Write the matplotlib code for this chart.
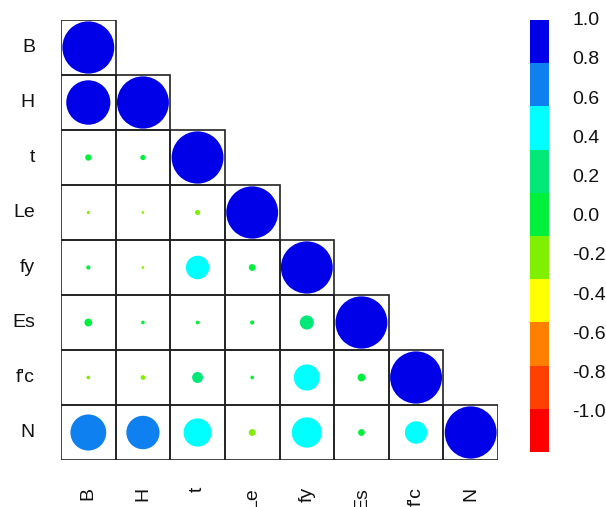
import numpy as np
import matplotlib
matplotlib.use("Agg")
import matplotlib.pyplot as plt
from matplotlib.colors import ListedColormap, BoundaryNorm
from matplotlib.patches import Circle, Rectangle
from matplotlib.transforms import blended_transform_factory

plt.rcParams['font.family'] = ['Liberation Sans', 'DejaVu Sans']

# variable names
variables = ["B", "H", "t", "Le", "fy", "Es", "f'c", "N"]

# lower triangle of the correlation matrix, row by row (diagonal included)
corr_rows = [
    [1.00],
    [0.85, 1.00],
    [0.12, 0.10, 1.00],
    [-0.06, -0.05, -0.10, 1.00],
    [0.08, -0.05, 0.45, 0.13, 1.00],
    [0.15, 0.07, 0.07, 0.08, 0.27, 1.00],
    [-0.07, -0.09, 0.21, 0.07, 0.50, 0.15, 1.00],
    [0.69, 0.64, 0.54, -0.13, 0.58, 0.13, 0.43, 1.00],
]

# colour key, from -1 to 1 in steps of 0.2
bounds = np.linspace(-1, 1, 11)
key_colors = ["#FF0000", "#FF4000", "#FF8000", "#FFFF00", "#7FF000",
              "#00F03C", "#00E878", "#00FFFF", "#0F80F0", "#0000E8"]
tick_values = [1.0, 0.8, 0.6, 0.4, 0.2, 0.0, -0.2, -0.4, -0.6, -0.8, -1.0]

cmap = ListedColormap(key_colors)
norm = BoundaryNorm(bounds, cmap.N)

W, H = 606, 507
fig = plt.figure(figsize=(W / 100, H / 100), dpi=100)

# main grid
ax = fig.add_axes([61 / W, 1 - 460 / H, 437 / W, 440 / H])
n = len(variables)
ax.set_xlim(-0.5, n - 0.5)
ax.set_ylim(n - 0.5, -0.5)
ax.axis("off")

for i, row in enumerate(corr_rows):
    for j, r in enumerate(row):
        ax.add_patch(Rectangle((j - 0.5, i - 0.5), 1, 1, fill=False,
                               edgecolor="#222222", lw=1.2, zorder=3))
        ax.add_patch(Circle((j, i), 0.475 * abs(r), facecolor=cmap(norm(r)),
                            edgecolor="none", zorder=2))

# row labels on the left
trans_y = blended_transform_factory(fig.transFigure, ax.transData)
for i, name in enumerate(variables):
    ax.text(35 / W, i, name, transform=trans_y, ha="right", va="center",
            fontsize=14, color="#111111")

# column labels under the grid, rotated
trans_x = blended_transform_factory(ax.transData, fig.transFigure)
for j, name in enumerate(variables):
    ax.text(j, 1 - 487 / H, name, transform=trans_x, rotation=90,
            ha="center", va="top", fontsize=14, color="#111111")

# colour key
cax = fig.add_axes([530 / W, 1 - 452 / H, 19 / W, 432 / H])
mids = (bounds[:-1] + bounds[1:]) / 2
cax.pcolormesh([0, 1], bounds, mids.reshape(-1, 1), cmap=cmap, norm=norm)
cax.set_xlim(0, 1)
cax.set_ylim(-1, 1)
cax.axis("off")

for v in tick_values:
    y_px = 20.7 + (1 - v) / 2 * 392
    fig.text(572 / W, 1 - y_px / H, f"{v:.1f}", ha="left", va="center",
             fontsize=14, color="#111111")

fig.savefig("out.png", dpi=100)
